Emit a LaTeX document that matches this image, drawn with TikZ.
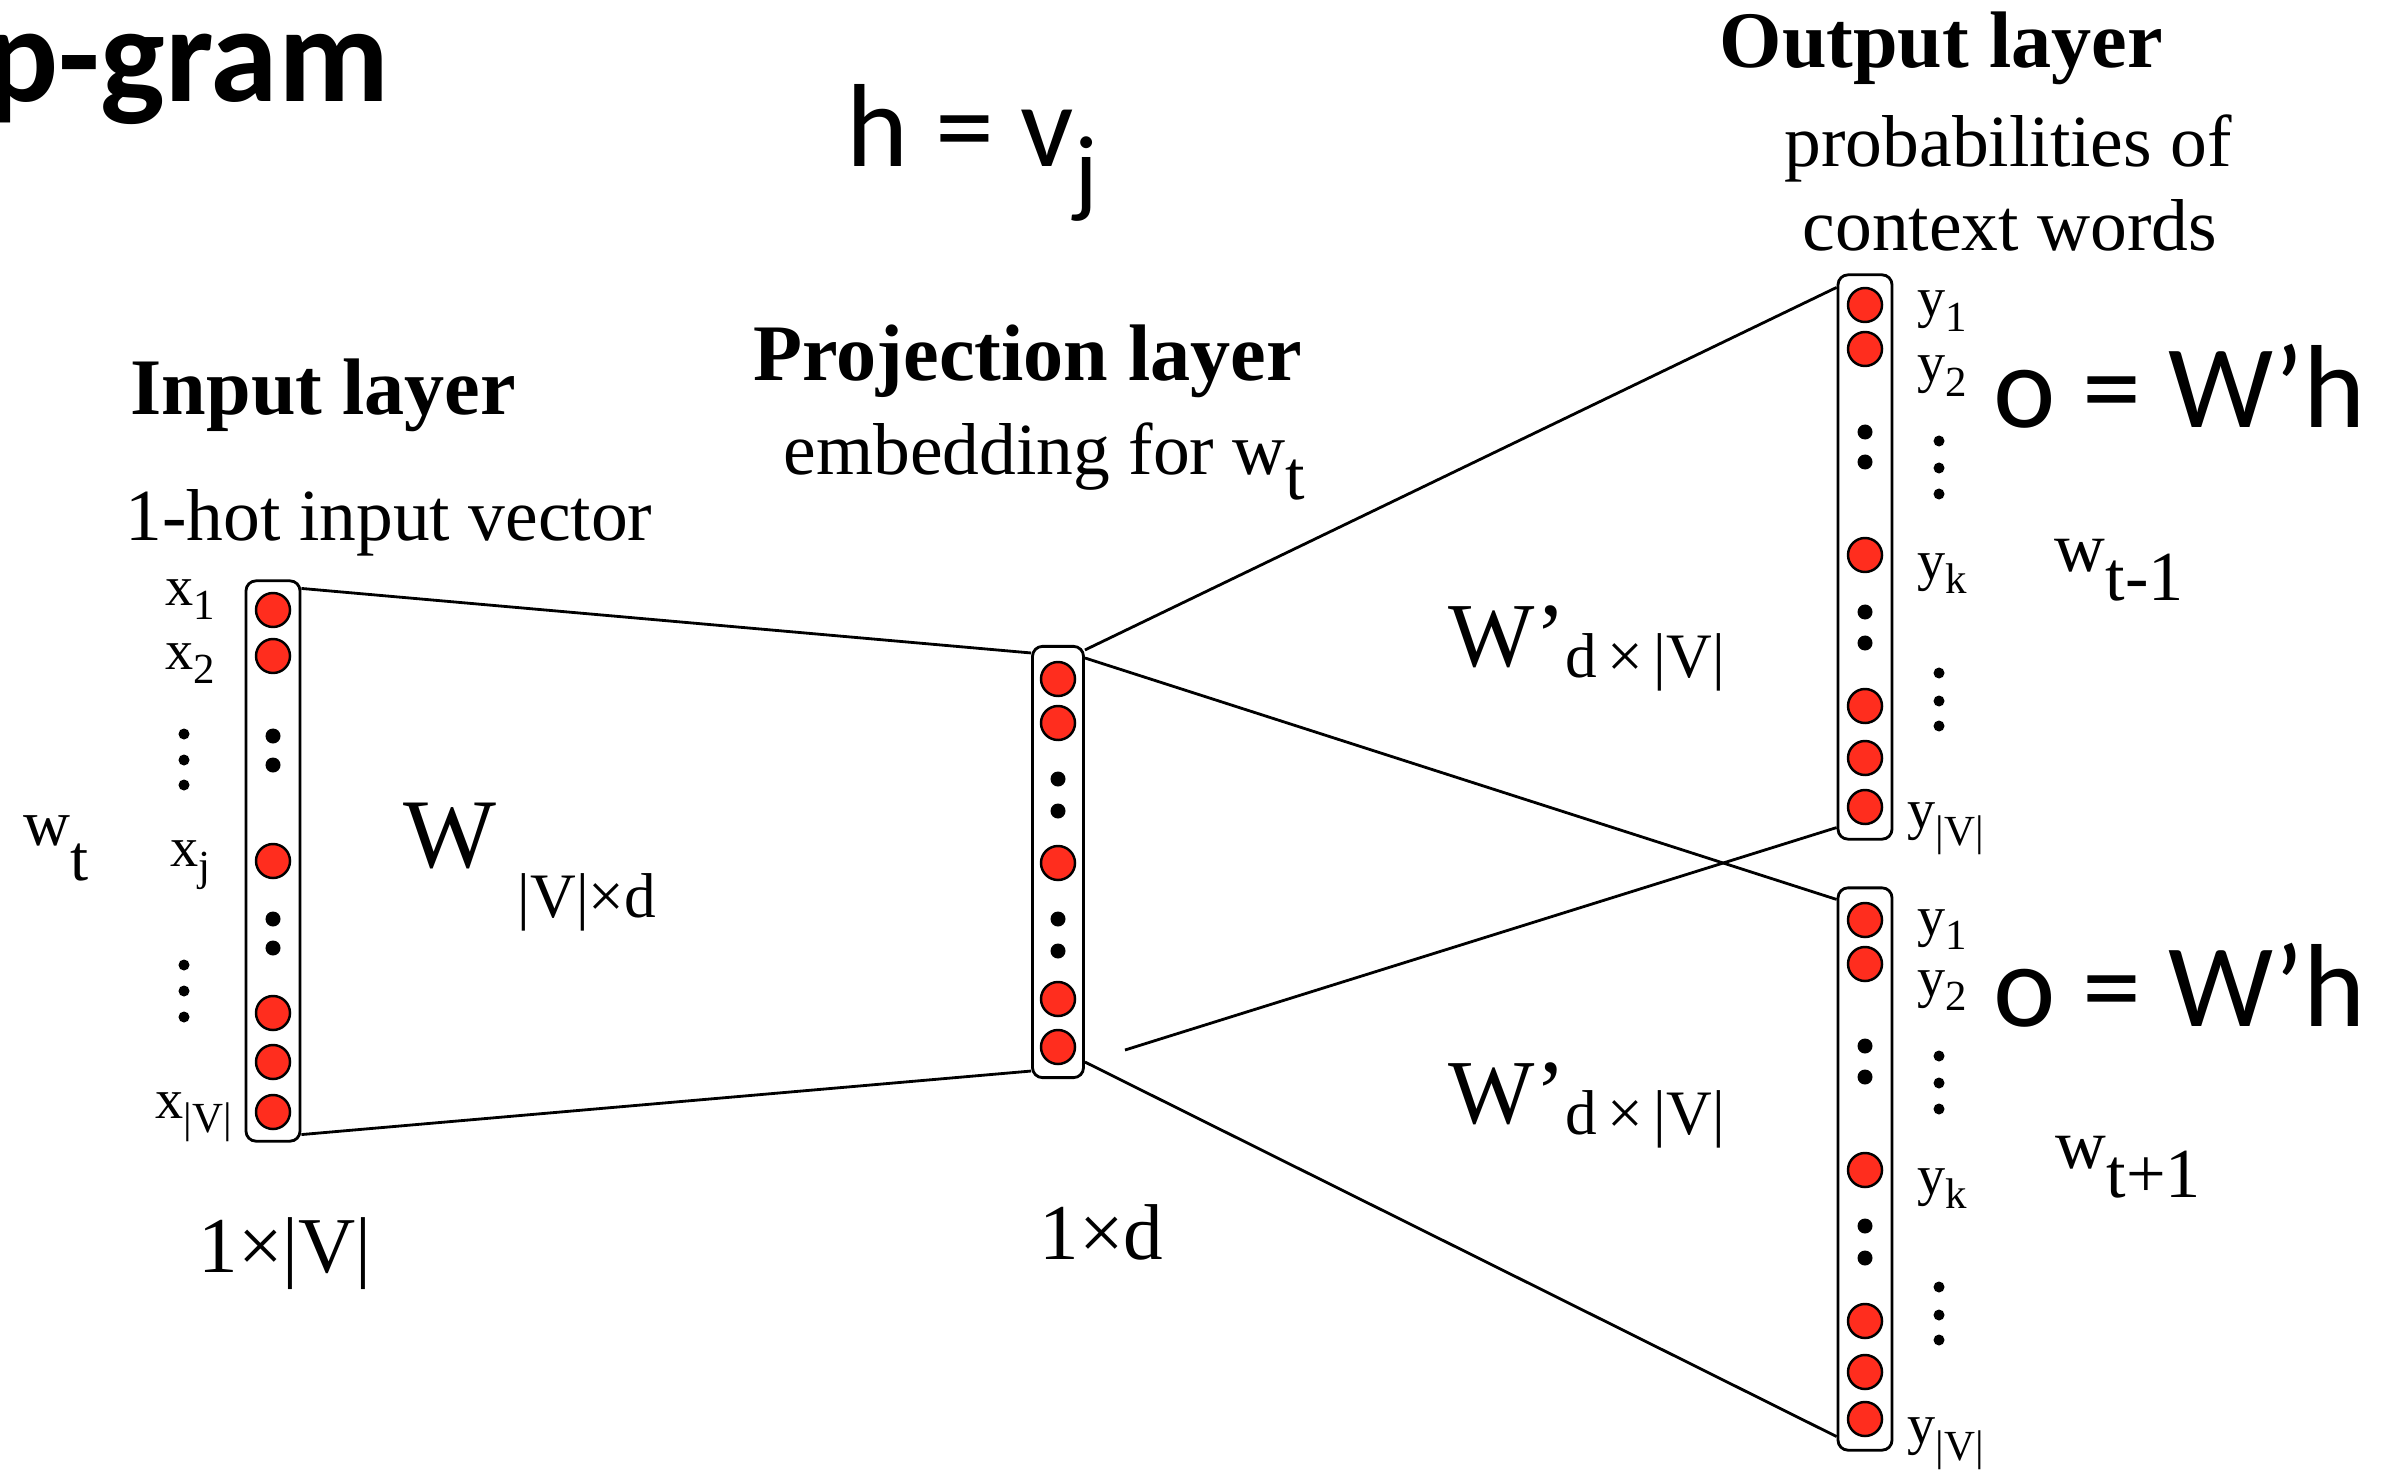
\documentclass[tikz,border=0pt]{standalone}
\usepackage{fontspec}
\setmainfont{Liberation Serif}
\newfontfamily\slidefont{Carlito}
\usepackage{tikz}
\usetikzlibrary{positioning}
\definecolor{UnitRed}{RGB}{255,45,30}
\newcommand{\fsz}[1]{\fontsize{#1}{#1}\selectfont}
\newcommand{\lowidx}[3]{\raisebox{-#1pt}{\fsz{#2}#3}}

\begin{document}
\begin{tikzpicture}[
  x=0.01cm, y=-0.01cm,
  col/.style={draw, rounded corners=0.1cm, line width=0.8pt, fill=white,
    minimum width=0.54cm, inner sep=0pt},
  unit/.style={circle, draw, line width=0.7pt, fill=UnitRed,
    minimum size=0.34cm, inner sep=0pt},
  gap/.style={circle, fill=black, minimum size=0.15cm, inner sep=0pt},
  vdot/.style={circle, fill=black, minimum size=0.11cm, inner sep=0pt},
  link/.style={line width=0.8pt},
  txt/.style={inner sep=0pt, anchor=base west},
  head/.style={txt, font=\fsz{22.8}\bfseries},
  note/.style={txt, font=\fsz{20.9}},
  idx/.style={txt, font=\fsz{16}},
  eq/.style={txt, font=\slidefont\fsz{33.6}}
]
\useasboundingbox (0,0) rectangle (2385,1470);

% Columns
\node[col, minimum height=5.60cm] (inbox) at (273,861) {};
\node[col, minimum height=4.31cm, minimum width=0.51cm] (projbox) at (1058,862) {};
\node[col, minimum height=5.64cm] (out1) at (1865,557) {};
\node[col, minimum height=5.62cm] (out2) at (1865,1169) {};

% Units
\foreach \n/\y in {1/610, 2/656, 3/861, 4/1013, 5/1062, 6/1112}
  \node[unit] (in\n) at (273,\y) {};
\foreach \n/\y in {1/679, 2/723, 3/863, 4/999, 5/1047}
  \node[unit] (pr\n) at (1058,\y) {};
\foreach \n/\y in {1/305, 2/349, 3/555, 4/706, 5/758, 6/807}
  \node[unit] (oa\n) at (1865,\y) {};
\foreach \n/\y in {1/920, 2/964, 3/1170, 4/1321, 5/1372, 6/1419}
  \node[unit] (ob\n) at (1865,\y) {};

% Gaps inside the columns
\foreach \y in {736, 765, 919, 948}
  \node[gap] (ing\y) at (273,\y) {};
\foreach \y in {779, 811, 919, 951}
  \node[gap] (prg\y) at (1058,\y) {};
\foreach \y in {432, 462, 612, 643}
  \node[gap] (oag\y) at (1865,\y) {};
\foreach \y in {1046, 1077, 1226, 1258}
  \node[gap] (obg\y) at (1865,\y) {};

% Dots beside the labels
\foreach \y in {734, 760, 785, 965, 991, 1017}
  \node[vdot] (xd\y) at (184,\y) {};
\foreach \y in {441, 468, 494, 673, 701, 726}
  \node[vdot] (yad\y) at (1939,\y) {};
\foreach \y in {1056, 1083, 1109, 1287, 1315, 1340}
  \node[vdot] (ybd\y) at (1939,\y) {};

% Connections
\coordinate (cross) at (1125,1050);
\draw[link] ([yshift=-0.09cm]inbox.north east) -- ([yshift=-0.08cm]projbox.north west);
\draw[link] ([yshift=0.08cm]inbox.south east) -- ([yshift=0.08cm]projbox.south west);
\draw[link] ([yshift=-0.05cm]projbox.north east) -- ([yshift=-0.14cm]out1.north west);
\draw[link] ([yshift=-0.13cm]projbox.north east) -- ([yshift=-0.13cm]out2.north west);
\draw[link] ([yshift=0.17cm]projbox.south east) -- ([yshift=0.15cm]out2.south west);
\draw[link] (cross) -- ([yshift=0.13cm]out1.south west);

% Titles
\node[txt, font=\slidefont\bfseries\fsz{38.8}] (title) at (-15,102) {p-gram};
\node[eq] (hv) at (846,167) {h = v\lowidx{10.8}{28}{j}};
\node[head] (inhead) at (130,415) {Input layer};
\node[note] (insub) at (125,540) {1-hot input vector};
\node[head] (projhead) at (753,380) {Projection layer};
\node[note] (projsub) at (783,475) {embedding for w\lowidx{7}{20}{t}};
\node[head] (outhead) at (1719,68) {Output layer};
\node[note] (outsub1) at (1784,167) {probabilities of};
\node[note] (outsub2) at (1802,251) {context words};

% Input labels
\node[idx] (x1) at (165,605) {x\lowidx{4}{12.2}{1}};
\node[idx] (x2) at (165,669) {x\lowidx{4}{12.2}{2}};
\node[idx] (xj) at (170,866) {x\lowidx{4}{12.2}{j}};
\node[idx] (xv) at (155,1118) {x\lowidx{4}{12.2}{|V|}};
\node[txt, font=\fsz{18.5}] (wt) at (23,845) {w\lowidx{10}{18.5}{t}};

% Output labels
\node[idx] (ya1) at (1917,317) {y\lowidx{4}{12.2}{1}};
\node[idx] (ya2) at (1917,382) {y\lowidx{4}{12.2}{2}};
\node[idx] (yak) at (1917,579) {y\lowidx{4}{12.2}{k}};
\node[idx] (yav) at (1907,828) {y\lowidx{5}{12.2}{|V|}};
\node[idx] (yb1) at (1917,935) {y\lowidx{4}{12.2}{1}};
\node[idx] (yb2) at (1917,996) {y\lowidx{4}{12.2}{2}};
\node[idx] (ybk) at (1917,1194) {y\lowidx{4}{12.2}{k}};
\node[idx] (ybv) at (1907,1443) {y\lowidx{5}{12.2}{|V|}};

% Weights
\node[txt, font=\fsz{28}] (wmat) at (403,867)
  {W\hspace{6pt}\lowidx{14.5}{18}{|V|×d}};
\node[txt, font=\fsz{26}] (wouta) at (1448,666)
  {W’\lowidx{3.4}{18}{d\,×\,|V|}};
\node[txt, font=\fsz{26}] (woutb) at (1448,1123)
  {W’\lowidx{3.4}{18}{d\,×\,|V|}};
\node[eq] (oa) at (1993,428) {o = W’h};
\node[eq] (ob) at (1993,1026) {o = W’h};
\node[txt, font=\fsz{20}] (wprev) at (2054,571) {w\lowidx{8.3}{20}{t-1}};
\node[txt, font=\fsz{20}] (wnext) at (2055,1168) {w\lowidx{8.5}{20}{t+1}};

% Sizes
\node[txt, font=\fsz{22.5}] (indim) at (198,1272) {1×|V|};
\node[txt, font=\fsz{22.5}] (projdim) at (1039,1259) {1×d};

\end{tikzpicture}
\end{document}
